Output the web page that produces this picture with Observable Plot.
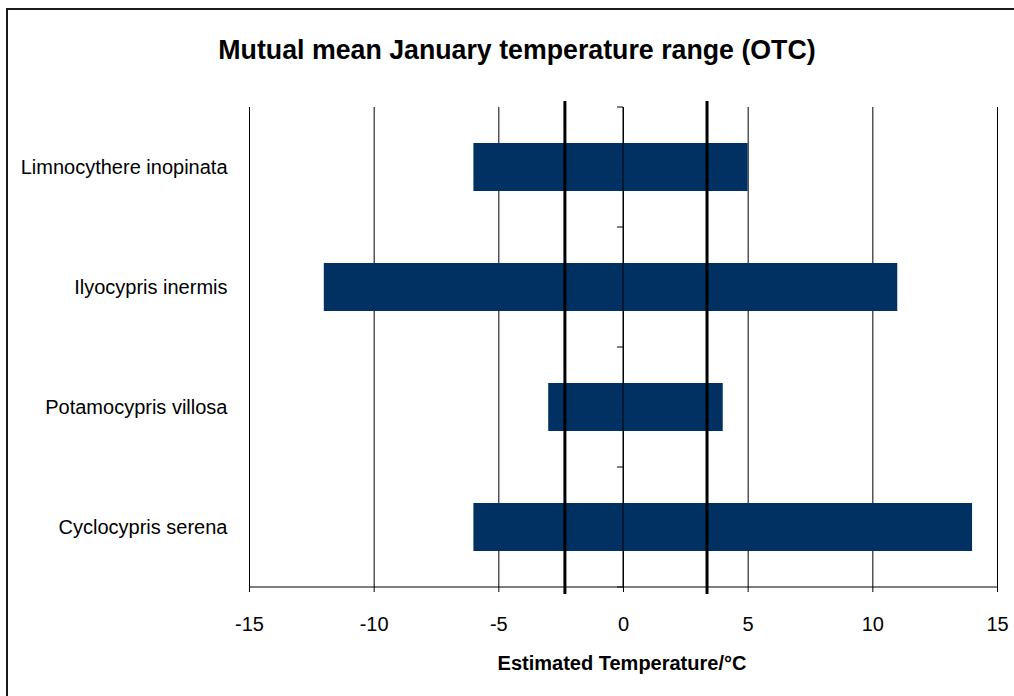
<!DOCTYPE html>
<html><head><meta charset="utf-8">
<script src="https://cdn.jsdelivr.net/npm/d3@7"></script>
<script src="https://cdn.jsdelivr.net/npm/@observablehq/plot@0.6"></script>
<style>
body{margin:0;background:#fff;overflow:hidden;width:1014px;height:696px;position:relative;font-family:"Liberation Sans",Arial,sans-serif;color:#000;}
#frame{position:absolute;left:6px;top:8px;width:1100px;height:800px;border-left:2px solid #1a1a1a;border-top:2px solid #1a1a1a;}
#title{position:absolute;left:0;width:1034px;top:34px;text-align:center;font-weight:bold;font-size:28px;white-space:nowrap;transform:scaleX(0.955);transform-origin:517px 50%;}
#chart{position:absolute;left:0;top:0;}
#xlabel{position:absolute;left:0;width:1244px;top:652px;text-align:center;font-weight:bold;font-size:20px;white-space:nowrap;}
</style>
</head><body>
<div id="frame"></div>
<div id="chart"></div>
<div id="title">Mutual mean January temperature range (OTC)</div>
<div id="xlabel">Estimated Temperature/°C</div>
<script>
const species = ["Limnocythere inopinata", "Ilyocypris inermis", "Potamocypris villosa", "Cyclocypris serena"];
const lowTemp = [-6, -12, -3, -6];
const highTemp = [5, 11, 4, 14];
const mutualRange = [-2.35, 3.35];
const xTicks = [-15, -10, -5, 0, 5, 10, 15];

const data = species.map((s, i) => ({species: s, low: lowTemp[i], high: highTemp[i]}));

// y axis line at x = 0 with tick marks at category boundaries, plus bottom axis line
const axisLines = (index, scales, values, dimensions) => {
  const x = scales.x, y = scales.y;
  const step = y.step(), bw = y.bandwidth();
  const half = (step - bw) / 2;
  const g = d3.create("svg:g").attr("stroke", "#000").attr("stroke-width", 1);
  const x0 = x(0);
  const bounds = species.map(s => y(s) - half);
  bounds.push(y(species[species.length - 1]) + bw + half);
  g.append("line").attr("x1", x0).attr("x2", x0)
    .attr("y1", bounds[0]).attr("y2", bounds[bounds.length - 1]);
  for (const b of bounds) {
    g.append("line").attr("x1", x0 - 6).attr("x2", x0).attr("y1", b).attr("y2", b);
  }
  const yb = dimensions.height - dimensions.marginBottom;
  g.append("line").attr("x1", x(xTicks[0])).attr("x2", x(xTicks[xTicks.length - 1]))
    .attr("y1", yb).attr("y2", yb);
  return g.node();
};

const chart = Plot.plot({
  width: 1014,
  height: 696,
  marginTop: 107,
  marginBottom: 109,
  marginLeft: 249,
  marginRight: 17,
  style: {fontFamily: '"Liberation Sans", Arial, sans-serif', fontSize: "20px", color: "#000", background: "transparent"},
  x: {domain: [-15, 15]},
  y: {domain: species, paddingInner: 0.6, paddingOuter: 0.3, round: false},
  marks: [
    Plot.ruleX(xTicks, {stroke: "#000", strokeWidth: 1}),
    Plot.barX(data, {y: "species", x1: "low", x2: "high", fill: "#003162"}),
    axisLines,
    Plot.ruleX(mutualRange, {stroke: "#000", strokeWidth: 3, insetTop: -6, insetBottom: -7}),
    Plot.axisX({anchor: "bottom", ticks: xTicks, tickSize: 5, tickPadding: 24, tickFormat: d => String(d), fontSize: 20, label: null}),
    Plot.axisY({anchor: "left", tickSize: 0, tickPadding: 22, fontSize: 20, label: null})
  ]
});
document.getElementById("chart").appendChild(chart);
</script>
</body></html>
